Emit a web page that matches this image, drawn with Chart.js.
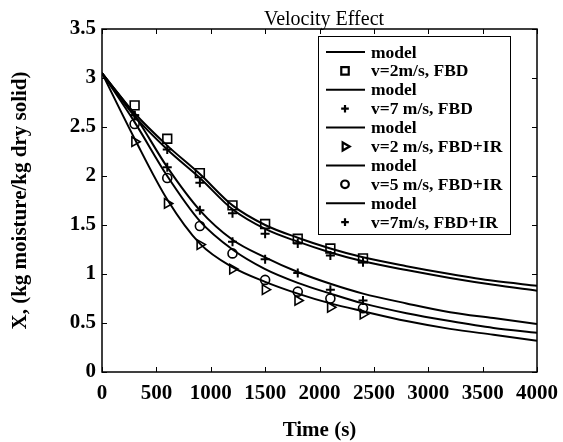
<!DOCTYPE html>
<html>
<head>
<meta charset="utf-8">
<script src="https://cdn.jsdelivr.net/npm/chart.js@4.4.0/dist/chart.umd.min.js"></script>
<style>
  body { margin: 0; background: #fff; }
  #wrap { width: 563px; height: 442px; }
</style>
</head>
<body>
<div id="wrap"><canvas id="myChart" width="563" height="442"></canvas></div>
<script>
// measured times (s)
const expTime = [300, 600, 900, 1200, 1500, 1800, 2100, 2400];
const v2FBD = [2.72, 2.38, 2.03, 1.70, 1.51, 1.36, 1.26, 1.16];
const v7FBD = [2.62, 2.27, 1.93, 1.62, 1.41, 1.31, 1.19, 1.12];
const v2IR = [2.35, 1.72, 1.30, 1.05, 0.84, 0.73, 0.66, 0.59];
const v5IR = [2.53, 1.98, 1.49, 1.21, 0.94, 0.82, 0.75, 0.65];
const v7IR = [2.62, 2.09, 1.65, 1.33, 1.15, 1.01, 0.84, 0.73];

// model curves
const modelTime = [0, 300, 600, 900, 1200, 1500, 1800, 2100, 2400, 2800, 3200, 3600, 4000];
const modelV2FBD = [3.05, 2.64, 2.31, 2.02, 1.70, 1.50, 1.37, 1.26, 1.17, 1.08, 1.00, 0.93, 0.88];
const modelV7FBD = [3.05, 2.61, 2.27, 1.98, 1.66, 1.46, 1.33, 1.22, 1.13, 1.04, 0.96, 0.89, 0.83];
const modelV7IR = [3.05, 2.62, 2.09, 1.65, 1.35, 1.17, 1.02, 0.90, 0.80, 0.70, 0.61, 0.55, 0.49];
const modelV5IR = [3.05, 2.55, 2.00, 1.54, 1.25, 1.05, 0.91, 0.80, 0.70, 0.60, 0.52, 0.45, 0.40];
const modelV2IR = [3.05, 2.38, 1.76, 1.31, 1.07, 0.92, 0.80, 0.70, 0.62, 0.52, 0.44, 0.38, 0.32];

const xTicks = [0, 500, 1000, 1500, 2000, 2500, 3000, 3500, 4000];
const yTicks = [0, 0.5, 1, 1.5, 2, 2.5, 3, 3.5];

function pts(xs, ys) {
  return xs.map((x, i) => ({ x: x, y: ys[i] }));
}

function modelSet(ys) {
  return {
    label: "model",
    data: pts(modelTime, ys),
    showLine: true,
    borderColor: "#000",
    borderWidth: 2,
    pointRadius: 0,
    cubicInterpolationMode: "monotone",
    fill: false,
  };
}

function expSet(label, ys, style, r, rot, bw) {
  return {
    label: label,
    data: pts(expTime, ys),
    showLine: false,
    pointStyle: style,
    pointRadius: r,
    pointRotation: rot || 0,
    pointBorderColor: "#000",
    pointBackgroundColor: "rgba(0,0,0,0)",
    pointBorderWidth: bw || 1.6,
    borderColor: "#000",
  };
}

const datasets = [
  modelSet(modelV2FBD),
  expSet("v=2m/s, FBD", v2FBD, "rect", 6.2),
  modelSet(modelV7FBD),
  expSet("v=7 m/s, FBD", v7FBD, "cross", 4.5, 0, 2),
  modelSet(modelV2IR),
  expSet("v=2 m/s, FBD+IR", v2IR, "triangle", 5.5, 90),
  modelSet(modelV5IR),
  expSet("v=5 m/s, FBD+IR", v5IR, "circle", 4.5),
  modelSet(modelV7IR),
  expSet("v=7m/s, FBD+IR", v7IR, "cross", 4.5, 0, 2),
];

const axisFont = { family: "'Liberation Serif'", size: 21, weight: "bold" };

// frame, inward ticks, title and legend
const decor = {
  id: "decor",
  afterDatasetsDraw(chart) {
    const ctx = chart.ctx;
    const a = chart.chartArea;
    const xs = chart.scales.x;
    const ys = chart.scales.y;
    ctx.save();
    ctx.strokeStyle = "#000";
    ctx.lineWidth = 1.5;
    ctx.strokeRect(a.left, a.top, a.right - a.left, a.bottom - a.top);
    ctx.lineWidth = 1;
    ctx.beginPath();
    xTicks.forEach((t) => {
      const px = Math.round(xs.getPixelForValue(t)) + 0.5;
      ctx.moveTo(px, a.bottom);
      ctx.lineTo(px, a.bottom - 5);
      ctx.moveTo(px, a.top);
      ctx.lineTo(px, a.top + 5);
    });
    yTicks.forEach((t) => {
      const py = Math.round(ys.getPixelForValue(t)) + 0.5;
      ctx.moveTo(a.left, py);
      ctx.lineTo(a.left + 5, py);
      ctx.moveTo(a.right, py);
      ctx.lineTo(a.right - 5, py);
    });
    ctx.stroke();

    // title
    ctx.fillStyle = "#000";
    ctx.font = "20px 'Liberation Serif'";
    ctx.textAlign = "center";
    ctx.textBaseline = "alphabetic";
    ctx.fillText("Velocity Effect", 324, 25);

    // legend
    const bx = 318, by = 36, bw = 192, bh = 198;
    ctx.fillStyle = "#fff";
    ctx.fillRect(bx, by, bw, bh);
    ctx.lineWidth = 1;
    ctx.strokeStyle = "#000";
    ctx.strokeRect(bx + 0.5, by + 0.5, bw, bh);
    ctx.font = "bold 17.5px 'Liberation Serif'";
    ctx.textAlign = "left";
    ctx.textBaseline = "middle";
    chart.data.datasets.forEach((ds, i) => {
      const cy = by + 16 + i * 18.9;
      ctx.strokeStyle = "#000";
      if (ds.showLine) {
        ctx.lineWidth = 2;
        ctx.beginPath();
        ctx.moveTo(bx + 8, cy);
        ctx.lineTo(bx + 47, cy);
        ctx.stroke();
      } else {
        ctx.fillStyle = "rgba(0,0,0,0)";
        ctx.lineWidth = 2.2;
        Chart.helpers.drawPoint(ctx, {
          pointStyle: ds.pointStyle,
          radius: ds.pointRadius * 0.85,
          rotation: ds.pointRotation,
          borderWidth: 2.2,
        }, bx + 27, cy);
      }
      ctx.fillStyle = "#000";
      ctx.fillText(ds.label, bx + 53, cy + 1);
    });
    ctx.restore();
  },
};

const config = {
  type: "scatter",
  data: { datasets },
  options: {
    responsive: false,
    animation: false,
    layout: { padding: { top: 29, right: 26, left: 0, bottom: 0 } },
    plugins: { legend: { display: false }, tooltip: { enabled: false } },
    scales: {
      x: {
        type: "linear",
        min: 0,
        max: 4000,
        afterFit: (s) => {
          s.height = 70;
          s.paddingLeft = 0;
          s.paddingRight = 0;
        },
        afterBuildTicks: (s) => { s.ticks = xTicks.map((v) => ({ value: v })); },
        grid: { display: false, drawTicks: false },
        border: { display: false },
        ticks: {
          padding: 9,
          color: "#000",
          maxRotation: 0,
          autoSkip: false,
          font: axisFont,
          callback: (v) => String(v),
        },
        title: {
          display: true,
          text: "Time (s)",
          color: "#000",
          padding: { top: 0, bottom: -1 },
          font: axisFont,
        },
      },
      y: {
        min: 0,
        max: 3.5,
        afterFit: (s) => {
          s.width = 102;
          s.paddingTop = 0;
          s.paddingBottom = 0;
        },
        afterBuildTicks: (s) => { s.ticks = yTicks.map((v) => ({ value: v })); },
        grid: { display: false, drawTicks: false },
        border: { display: false },
        ticks: {
          padding: 6,
          color: "#000",
          font: axisFont,
          callback: (v) => String(v),
        },
        title: {
          display: true,
          text: "X, (kg moisture/kg dry solid)",
          color: "#000",
          padding: { top: 8, bottom: 0 },
          font: axisFont,
        },
      },
    },
  },
  plugins: [decor],
};

const myChart = new Chart(document.getElementById("myChart"), config);
</script>
</body>
</html>
